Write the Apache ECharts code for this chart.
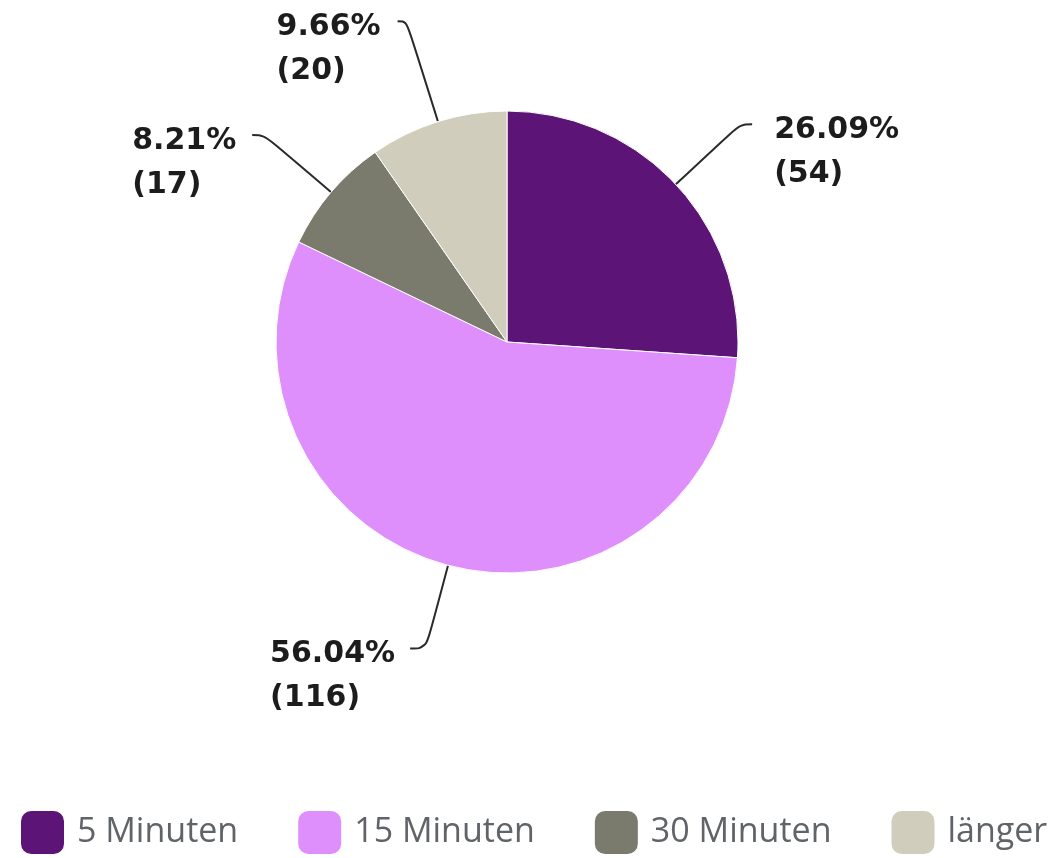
<!DOCTYPE html>
<html>
<head>
<meta charset="utf-8">
<script src="https://cdn.jsdelivr.net/npm/echarts@6/dist/echarts.min.js"></script>
<style>
html,body{margin:0;padding:0;background:#fff;}
#c{width:1057px;height:858px;}
</style>
</head>
<body>
<div id="c"></div>
<script>
const categories = ['5 Minuten', '15 Minuten', '30 Minuten', 'länger'];
const counts = [54, 116, 17, 20];
const colors = ['#5c1577', '#df8ffc', '#7b7b6d', '#d0cdbd'];
const lineLengths = [88, 86, 88, 105];
const lineLengths2 = [12, 16, 12, 9];
const labelGaps = [22, 15, 15, 16];

const labelFont = 'bold 30px "DejaVu Sans"';
const ctx = document.createElement('canvas').getContext('2d');
ctx.font = labelFont;
const total = counts.reduce((a, b) => a + b, 0);

const chart = echarts.init(document.getElementById('c'), null, {renderer: 'canvas'});
const data = categories.map((name, i) => {
  const pctText = (counts[i] / total * 100).toFixed(2) + '%';
  const w = Math.ceil(ctx.measureText(pctText).width);
  const base = {fontFamily: 'DejaVu Sans', fontWeight: 'bold', fontSize: 30, lineHeight: 44, color: '#1c1c1c'};
  return {
    name: name,
    value: counts[i],
    itemStyle: {color: colors[i]},
    labelLine: {length: lineLengths[i], length2: lineLengths2[i]},
    label: {
      distanceToLabelLine: labelGaps[i],
      rich: {
        s: Object.assign({}, base, {width: w, align: 'left', lineHeight: 56}),
        p: Object.assign({}, base, {width: w, align: 'left'}),
        c: Object.assign({}, base, {width: w, align: 'left'})
      }
    }
  };
});

chart.setOption({
  animation: false,
  backgroundColor: '#ffffff',
  legend: {
    left: 19,
    top: 809,
    padding: 0,
    itemWidth: 45,
    itemHeight: 45,
    itemGap: 58,
    icon: 'roundRect',
    data: categories,
    textStyle: {
      fontFamily: 'Open Sans',
      fontSize: 34,
      color: '#606367',
      padding: [0, 0, 0, 7]
    }
  },
  series: [{
    type: 'pie',
    center: [507, 342],
    radius: [0, 231],
    startAngle: 90,
    clockwise: true,
    avoidLabelOverlap: false,
    itemStyle: {borderColor: '#ffffff', borderWidth: 1},
    emphasis: {disabled: true},
    label: {
      show: true,
      formatter: '{s| }\n{p|{d}%}\n{c|({c})}',
      fontFamily: 'DejaVu Sans',
      fontWeight: 'bold',
      fontSize: 30,
      lineHeight: 44,
      color: '#1c1c1c'
    },
    labelLine: {
      show: true,
      smooth: 0.4,
      lineStyle: {color: '#2a2a2a', width: 2}
    },
    data: data
  }]
});
</script>
</body>
</html>
